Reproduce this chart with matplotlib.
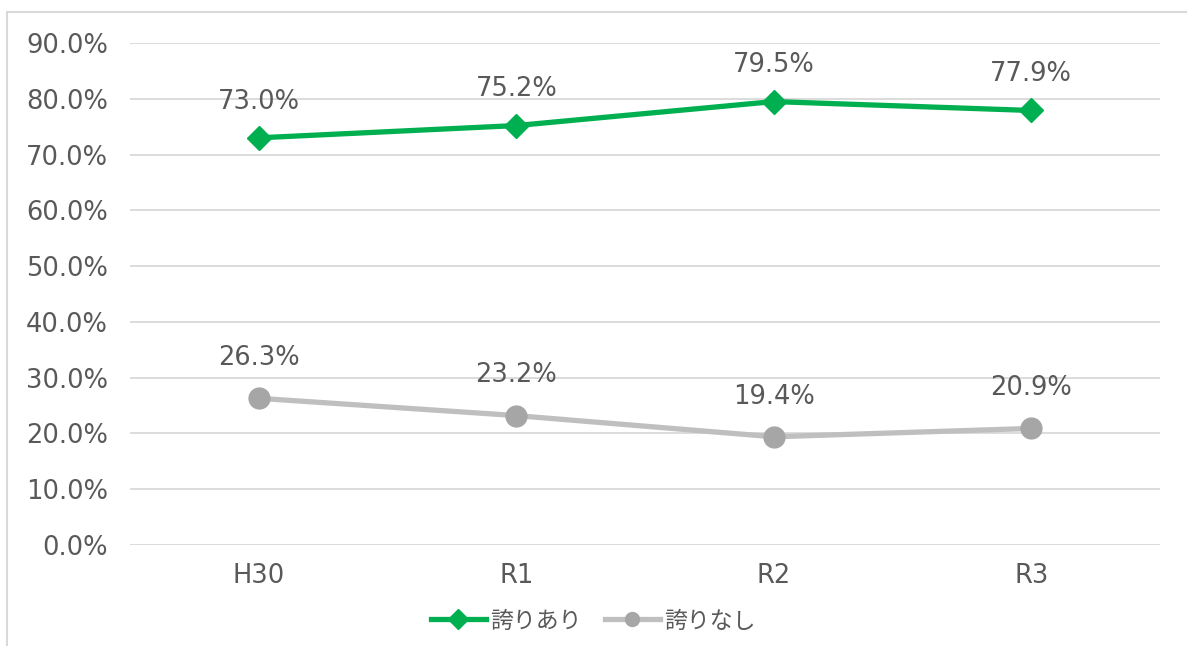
import matplotlib
matplotlib.use("Agg")
import matplotlib.pyplot as plt
from matplotlib.patches import Rectangle

plt.rcParams['font.family'] = ['DejaVu Sans', 'Noto Sans CJK JP']

# data
years = ['H30', 'R1', 'R2', 'R3']
pride_yes = [0.730, 0.752, 0.795, 0.779]
pride_no = [0.263, 0.232, 0.194, 0.209]
yticks = [i / 10 for i in range(10)]

text_col = '#595959'
green = '#00b050'
grey_line = '#bfbfbf'
grey_mark = '#a6a6a6'

fig = plt.figure(figsize=(11.87, 6.46), dpi=100)
ax = fig.add_axes([130 / 1187, 1 - 545 / 646, 1030 / 1187, 502 / 646])

# outer frame (only left and top edges show in the picture)
fig.patches.append(Rectangle((7 / 1187, -0.1), 1.2, 1 - 12 / 646 + 0.1,
                             transform=fig.transFigure, fill=False,
                             edgecolor='#d9d9d9', lw=1.5))

x = [i + 0.5 for i in range(len(years))]
ax.plot(x, pride_yes, color=green, lw=3.8, marker='D', markersize=12,
        markerfacecolor=green, markeredgecolor=green, label='誇りあり')
ax.plot(x, pride_no, color=grey_line, lw=3.8, marker='o', markersize=15,
        markerfacecolor=grey_mark, markeredgecolor=grey_mark, label='誇りなし')

for xi, v in zip(x, pride_yes):
    ax.annotate(f'{v * 100:.1f}%', (xi, v), xytext=(0, 26), textcoords='offset points',
                ha='center', va='center', fontsize=18.5, color=text_col)
for xi, v in zip(x, pride_no):
    ax.annotate(f'{v * 100:.1f}%', (xi, v), xytext=(0, 29), textcoords='offset points',
                ha='center', va='center', fontsize=18.5, color=text_col)

ax.set_xlim(0, len(years))
ax.set_ylim(0, 0.9)
ax.set_yticks(yticks)
ax.set_yticklabels([f'{t * 100:.1f}%' for t in yticks])
ax.set_xticks(x)
ax.set_xticklabels(years)
ax.tick_params(axis='both', length=0, labelsize=18.5, labelcolor=text_col)
ax.tick_params(axis='y', pad=16)
ax.tick_params(axis='x', pad=13)
ax.grid(axis='y', color='#d9d9d9', lw=1.3)
ax.set_axisbelow(True)
for s in ax.spines.values():
    s.set_visible(False)

leg = fig.legend(loc='center', bbox_to_anchor=(0.5, 1 - 621 / 646), ncol=2,
                 frameon=False, prop={'family': 'Noto Sans CJK JP', 'size': 16.5},
                 handlelength=2.4, columnspacing=1.0, handletextpad=0.2)
for t in leg.get_texts():
    t.set_color(text_col)
for h in leg.legend_handles:
    h.set_markersize(10)

fig.savefig('out.png', dpi=100)
